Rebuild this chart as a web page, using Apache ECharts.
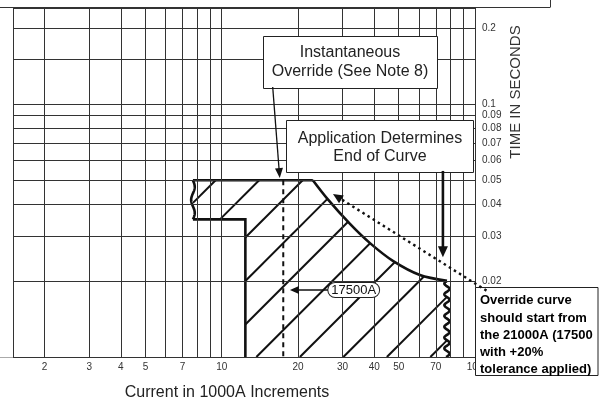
<!DOCTYPE html>
<html><head><meta charset="utf-8">
<script src="https://cdn.jsdelivr.net/npm/echarts@6/dist/echarts.min.js"></script>
<style>html,body{margin:0;padding:0;background:#fff}#c{width:599px;height:402px}</style>
</head><body><div id="c"></div>
<script>
// ---- axis ranges, grid lines and tick labels ----
const xRange = [1.5, 100];
const yRange = [0.01, 0.242];
const xGridValues = [1.5, 2, 3, 4, 5, 6, 7, 8, 9, 10, 20, 30, 40, 50, 60, 70, 80, 90, 100];
const yGridValues = [0.01, 0.015, 0.02, 0.03, 0.04, 0.05, 0.06, 0.07, 0.08, 0.09, 0.1, 0.15, 0.2, 0.242];
const xTickLabels = [2, 3, 4, 5, 7, 10, 20, 30, 40, 50, 70, 100];
const yTickLabels = [0.02, 0.03, 0.04, 0.05, 0.06, 0.07, 0.08, 0.09, 0.1, 0.2];

// ---- trip band boundary: [current (1000A), time (s)] ----
// stepped lower-left edge, then flat top and curved upper edge, then right edge
const bandPoints = [[12.4, 0.01], [12.4, 0.035], [7.7, 0.035], [7.7, 0.05],
  [22.9, 0.05], [26.2, 0.0421], [32.1, 0.0336], [38.5, 0.0282], [47.4, 0.024], [60.6, 0.0211], [77.5, 0.02],
  [77.5, 0.01]];

// ---- annotations (data coordinates) ----
const pickupCurrent = 17.5;           // 17500A dashed line
const pickupSpan = [0.05, 0.01];
const pickupLabelPoint = [33.2, 0.0184];
const pickupArrow = [[26.5, 0.0184], [18.6, 0.0184]];
const instArrow = [[15.9, 0.1168], [16.95, 0.051]];
const appArrow = [[74.7, 0.0544], [74.7, 0.0248]];
const overrideArrow = [[111, 0.0183], [27.5, 0.0441]];

const FONT = 'Liberation Sans, Arial, sans-serif';

function wavy(a, b, period, amp) {
  const dx = b[0] - a[0], dy = b[1] - a[1], len = Math.hypot(dx, dy);
  const ux = dx / len, uy = dy / len, nx = -uy, ny = ux;
  const n = Math.max(4, Math.ceil(len * 2)), pts = [];
  for (let i = 0; i <= n; i++) {
    const s = len * i / n, o = amp * Math.sin(2 * Math.PI * s / period);
    pts.push([a[0] + ux * s + nx * o, a[1] + uy * s + ny * o]);
  }
  return pts;
}
function head(from, tip, len, hw) {
  const dx = tip[0] - from[0], dy = tip[1] - from[1], l = Math.hypot(dx, dy);
  const ux = dx / l, uy = dy / l, bx = tip[0] - ux * len, by = tip[1] - uy * len;
  return { type: 'polygon', shape: { points: [tip, [bx - uy * hw, by + ux * hw], [bx + uy * hw, by - ux * hw]] }, style: { fill: '#111' } };
}
function arrow(from, tip, w, len, hw, dash) {
  const dx = tip[0] - from[0], dy = tip[1] - from[1], l = Math.hypot(dx, dy);
  const end = [tip[0] - dx / l * (len - 2), tip[1] - dy / l * (len - 2)];
  const st = { stroke: '#111', lineWidth: w };
  if (dash) st.lineDash = dash;
  return [{ type: 'line', shape: { x1: from[0], y1: from[1], x2: end[0], y2: end[1] }, style: st }, head(from, tip, len, hw)];
}

function renderBand(params, api) {
  const P = bandPoints.map(p => api.coord(p));
  const children = [];
  // hatching at 45 degrees clipped to the band polygon
  const sums = P.map(p => p[0] + p[1]);
  const minS = Math.min(...sums), maxS = Math.max(...sums);
  const anchor = P[0][0] + 11 + P[0][1], step = 43.5;
  for (let k = Math.ceil((minS - anchor) / step); k <= Math.floor((maxS - anchor) / step); k++) {
    const c = anchor + k * step, xs = [];
    for (let i = 0; i < P.length; i++) {
      const p1 = P[i], p2 = P[(i + 1) % P.length];
      const f1 = p1[0] + p1[1] - c, f2 = p2[0] + p2[1] - c;
      if ((f1 > 0) !== (f2 > 0)) { const t = f1 / (f1 - f2); xs.push(p1[0] + t * (p2[0] - p1[0])); }
    }
    xs.sort((a, b) => a - b);
    for (let j = 0; j + 1 < xs.length; j += 2) {
      children.push({ type: 'line', shape: { x1: xs[j], y1: c - xs[j], x2: xs[j + 1], y2: c - xs[j + 1] }, style: { stroke: '#111', lineWidth: 2 } });
    }
  }
  const ol = { stroke: '#111', lineWidth: 2.6, fill: null, lineJoin: 'miter' };
  children.push({ type: 'polyline', shape: { points: [P[0], P[1], P[2]] }, style: ol });
  children.push({ type: 'polyline', shape: { points: wavy(P[2], P[3], 26, 1.8) }, style: ol });
  children.push({ type: 'polyline', shape: { points: [P[3], P[4]] }, style: ol });
  children.push({ type: 'polyline', shape: { points: P.slice(4, 11), smooth: 0.3 }, style: ol });
  children.push({ type: 'polyline', shape: { points: wavy(P[10], P[11], 10.8, 2.6) }, style: ol });
  return { type: 'group', children };
}

function renderNotes(params, api) {
  const c = [];
  const a = api.coord([pickupCurrent, pickupSpan[0]]), b = api.coord([pickupCurrent, pickupSpan[1]]);
  c.push({ type: 'line', shape: { x1: a[0], y1: a[1], x2: b[0], y2: b[1] }, style: { stroke: '#111', lineWidth: 2, lineDash: [5, 4] } });
  c.push(...arrow(api.coord(instArrow[0]), api.coord(instArrow[1]), 1.3, 10, 4));
  c.push(...arrow(api.coord(appArrow[0]), api.coord(appArrow[1]), 2.6, 11, 5));
  c.push(...arrow(api.coord(pickupArrow[0]), api.coord(pickupArrow[1]), 1.3, 9, 4));
  c.push(...arrow(api.coord(overrideArrow[0]), api.coord(overrideArrow[1]), 2.4, 10, 4.5, [2.5, 3.5]));
  const lp = api.coord(pickupLabelPoint);
  c.push({ type: 'text', x: lp[0], y: lp[1], style: { text: '17500A', font: '13px ' + FONT, fill: '#111', align: 'center', verticalAlign: 'middle',
    backgroundColor: '#fff', borderColor: '#222', borderWidth: 1, borderRadius: 8, padding: [1, 3, 0, 3] } });
  return { type: 'group', children: c };
}

const chart = echarts.init(document.getElementById('c'), null, { renderer: 'canvas' });
chart.setOption({
  animation: false,
  backgroundColor: '#fff',
  grid: { left: 13, right: 124, top: 7, bottom: 45, containLabel: false, outerBoundsMode: 'none' },
  xAxis: {
    type: 'log', logBase: 10, min: xRange[0], max: xRange[1],
    axisLine: { show: false }, axisTick: { show: false }, splitLine: { show: false },
    axisLabel: { customValues: xTickLabels, fontSize: 10, color: '#333', fontFamily: FONT, margin: 5,
      formatter: v => String(+(+v).toPrecision(3)) },
    name: 'Current in 1000A Increments', nameLocation: 'middle', nameGap: 28,
    nameTextStyle: { fontSize: 16, color: '#222', fontFamily: FONT, padding: [0, 34, 0, 0] }
  },
  yAxis: {
    type: 'log', logBase: 10, position: 'right', min: yRange[0], max: yRange[1],
    axisLine: { show: false }, axisTick: { show: false }, splitLine: { show: false },
    axisLabel: { customValues: yTickLabels, fontSize: 10, color: '#333', fontFamily: FONT, margin: 7,
      formatter: v => String(+(+v).toPrecision(2)) }
  },
  graphic: [
    { type: 'line', z: 20, shape: { x1: 0, y1: 7.5, x2: 550, y2: 7.5 }, style: { stroke: '#333', lineWidth: 1 } },
    { type: 'line', z: 20, shape: { x1: 550.5, y1: 0, x2: 550.5, y2: 7.5 }, style: { stroke: '#333', lineWidth: 1 } },
    { type: 'line', z: 20, shape: { x1: 0, y1: 357.5, x2: 13, y2: 357.5 }, style: { stroke: '#aaa', lineWidth: 1 } },
    { type: 'rect', z: 20, shape: { x: 263.5, y: 36.5, width: 174, height: 52 }, style: { fill: '#fff', stroke: '#222', lineWidth: 1 } },
    { type: 'text', z: 21, x: 350, y: 62.5, style: { text: 'Instantaneous\nOverride (See Note 8)', font: '16px ' + FONT, fill: '#222', align: 'center', verticalAlign: 'middle', lineHeight: 19 } },
    { type: 'rect', z: 20, shape: { x: 286.5, y: 120.5, width: 187, height: 52 }, style: { fill: '#fff', stroke: '#222', lineWidth: 1 } },
    { type: 'text', z: 21, x: 380, y: 148, style: { text: 'Application Determines\nEnd of Curve', font: '16px ' + FONT, fill: '#222', align: 'center', verticalAlign: 'middle', lineHeight: 18 } },
    { type: 'rect', z: 20, shape: { x: 475.5, y: 287.5, width: 122.5, height: 88 }, style: { fill: '#fff', stroke: '#222', lineWidth: 1 } },
    { type: 'text', z: 21, x: 480, y: 292, style: { text: 'Override curve\nshould start from\nthe 21000A (17500\nwith +20%\ntolerance applied)', font: 'bold 13px ' + FONT, fill: '#000', align: 'left', verticalAlign: 'top', lineHeight: 17.3 } },
    { type: 'text', z: 21, x: 516, y: 92, rotation: Math.PI / 2, style: { text: 'TIME IN SECONDS', font: '15px ' + FONT, fill: '#333', align: 'center', verticalAlign: 'middle' } }
  ],
  series: [
    {
      type: 'line', data: [], z: 1, silent: true,
      markLine: {
        silent: true, symbol: ['none', 'none'], label: { show: false },
        lineStyle: { color: '#333', width: 1, type: 'solid' },
        emphasis: { disabled: true },
        data: xGridValues.map(v => ({ xAxis: v })).concat(yGridValues.map(v => ({ yAxis: v })))
      }
    },
    { type: 'custom', z: 3, silent: true, data: [[10, 0.05]], clip: false, renderItem: renderBand },
    { type: 'custom', z: 30, silent: true, data: [[10, 0.05]], clip: false, renderItem: renderNotes }
  ]
});
</script></body></html>
